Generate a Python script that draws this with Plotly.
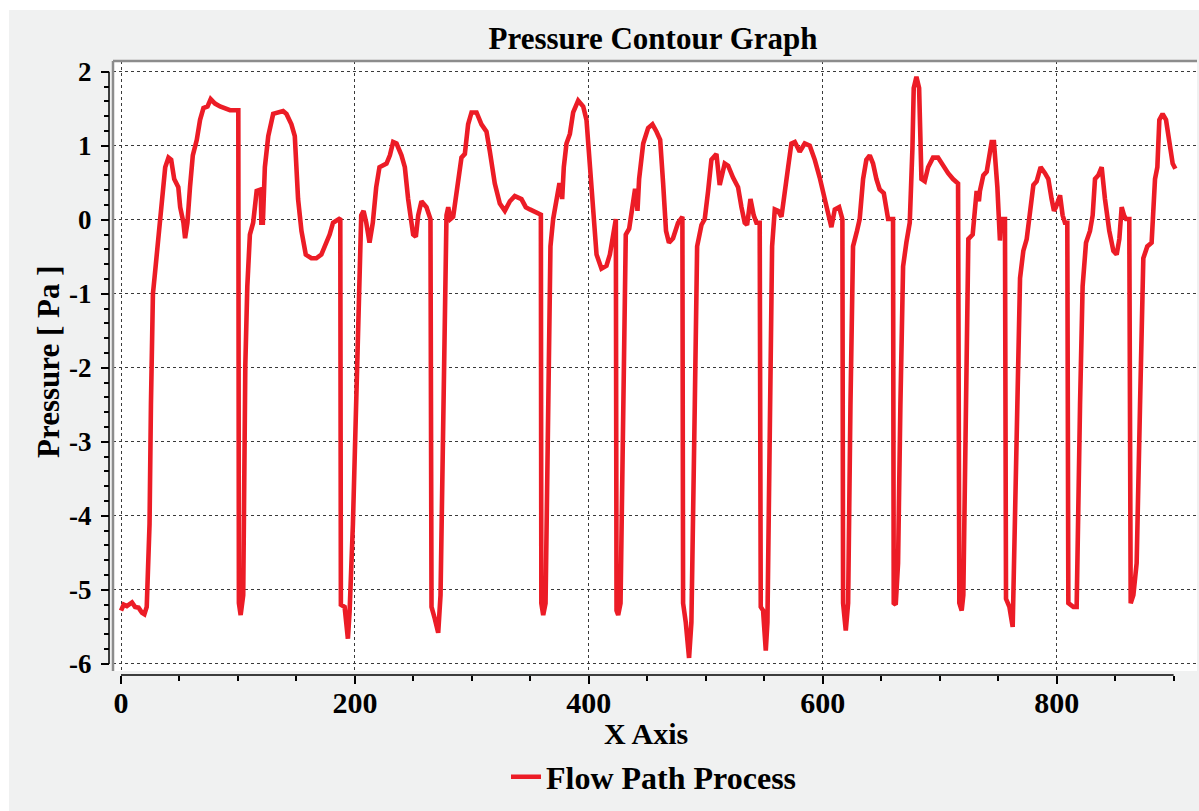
import plotly.graph_objects as go

# Sampled positions along the flow path and the pressure read at each point
x_pos = [
    0, 2.3, 5, 9.4, 12, 15, 18, 20, 22, 24.4, 25.6, 27.3, 29.3, 32, 35, 37.8, 40.6, 42.9,
    45.5, 49, 50.6, 53.4, 54.8, 56.8, 59, 61.4, 64.8, 67.6, 70.5, 74, 76.7, 80.4, 84.7, 89,
    93.2, 100.3, 100.8, 102.3, 104.5, 106.3, 108, 110.2, 113, 116, 118.2, 119.5, 120,
    121.3, 123, 125.9, 130.1, 134.4, 138.6, 141.5, 145.7, 148.6, 151.4, 154.3, 158, 162.8,
    167, 171.3, 174.2, 178.4, 181.3, 185.5, 187.5, 188, 191.2, 194, 195.5, 198.3, 201,
    203.4, 205.4, 207.4, 209.7, 212.5, 215.3, 218.2, 221, 227, 229.9, 232.7, 235.6, 239.8,
    242.7, 245.5, 249.8, 252.1, 254.1, 256.9, 261.2, 264.6, 265.5, 268.3, 271.2, 273.2,
    275.5, 276.9, 278.3, 279.8, 281.8, 284, 287.4, 291.1, 294, 296.8, 299.7, 304, 308.2,
    312.5, 315.4, 319.6, 323.9, 328.2, 332.5, 336.7, 342.4, 346.1, 349.6, 353.8, 359,
    359.4, 361, 363, 365.2, 367.2, 369.5, 372.4, 374.6, 376, 377.2, 378.6, 380.9, 383.8,
    386.6, 390.9, 395.2, 398, 400.9, 403.7, 406.6, 410.8, 415.1, 418, 420.8, 423.1, 423.7,
    425.1, 427.1, 429.4, 431.6, 434.5, 436.5, 439.3, 440.5, 441.6, 443, 446.5, 450.7,
    454.4, 457.9, 461, 463.5, 466, 468.5, 472, 476.3, 480, 480.6, 482.9, 485.7, 487.7,
    490.6, 492.6, 496.3, 499.1, 502, 504.8, 509.1, 511.9, 516.2, 519.1, 523.3, 527.6,
    530.5, 533.3, 535.3, 538.2, 541, 543.3, 546.1, 547, 549, 551.3, 552.7, 554.7, 556.7,
    559, 561.8, 564.7, 567.5, 570.4, 573.2, 576.1, 580.3, 584.6, 588.9, 593.2, 597.4,
    601.7, 604.6, 607.4, 610.3, 614, 616.8, 617.4, 619.7, 621.7, 623.7, 625.9, 629.3,
    631.6, 634.5, 637.3, 640.2, 643, 645.9, 648.7, 652.2, 655.9, 660.1, 660.7, 662.4,
    664.4, 666.4, 668.7, 671.5, 674.4, 676.7, 677.8, 680.1, 682.4, 684.4, 687.2, 690.1,
    694.3, 698.6, 702.9, 707.2, 711.4, 715.7, 716.8, 718.8, 720.2, 722.5, 724.5, 728.2,
    731.6, 733.5, 734.4, 737.3, 740.2, 744.4, 746.4, 749.3, 751.5, 752.5, 755.8, 756.7,
    759.6, 762.4, 764.4, 766.4, 768.7, 771.5, 774.4, 777.2, 780.1, 782.9, 786.3, 790,
    792.9, 795.7, 797.7, 799.4, 802.9, 805.1, 807.1, 809.1, 810, 814.3, 817.1, 820, 822.2,
    825.1, 828.5, 830.8, 832.8, 835.6, 838.5, 841.3, 845, 848.5, 851.3, 853.6, 855.6,
    857.6, 859.3, 862.1, 863.3, 865.6, 868.4, 871.3, 874.1, 877.5, 881.2, 884.1, 886.1,
    887.8, 890.6, 893.5, 896.3, 899.2, 901.5,
]

pressure = [
    -5.28, -5.20, -5.22, -5.17, -5.23, -5.24, -5.31, -5.33, -5.23, -4.11, -2.50, -1.00,
    -0.68, -0.26, 0.17, 0.71, 0.84, 0.81, 0.55, 0.44, 0.17, -0.04, -0.25, -0.04, 0.44,
    0.87, 1.08, 1.35, 1.51, 1.53, 1.63, 1.57, 1.53, 1.51, 1.48, 1.48, -5.18, -5.34, -5.07,
    -1.97, -0.90, -0.20, -0.04, 0.39, 0.41, 0.41, -0.04, -0.04, 0.71, 1.13, 1.43, 1.45,
    1.47, 1.43, 1.29, 1.13, 0.28, -0.15, -0.47, -0.52, -0.52, -0.47, -0.36, -0.20, -0.04,
    0.01, 0.02, -5.20, -5.23, -5.66, -5.28, -4.11, -2.50, -0.90, 0.06, 0.12, -0.04, -0.31,
    -0.04, 0.44, 0.71, 0.76, 0.87, 1.05, 1.03, 0.87, 0.71, 0.28, -0.20, -0.23, 0.06, 0.25,
    0.17, 0.01, -5.23, -5.39, -5.58, -5.07, -2.50, -0.90, 0.06, 0.17, 0.01, 0.04, 0.44,
    0.84, 0.89, 1.29, 1.45, 1.45, 1.29, 1.19, 0.92, 0.49, 0.22, 0.12, 0.25, 0.32, 0.28,
    0.17, 0.14, 0.11, 0.07, -5.18, -5.34, -5.18, -1.97, -0.36, 0.01, 0.28, 0.47, 0.47,
    0.28, 0.71, 1.03, 1.16, 1.45, 1.61, 1.53, 1.35, 0.71, -0.04, -0.47, -0.66, -0.62,
    -0.47, -0.15, 0.01, -5.28, -5.34, -5.18, -1.97, -0.20, -0.12, 0.06, 0.39, 0.39, 0.12,
    0.55, 1.03, 1.24, 1.29, 1.19, 1.08, 0.50, -0.15, -0.31, -0.25, -0.04, 0.04, -5.18,
    -5.44, -5.92, -5.44, -2.50, -0.36, -0.07, 0.01, 0.39, 0.81, 0.89, 0.47, 0.76, 0.73,
    0.57, 0.44, 0.17, -0.04, -0.07, 0.28, 0.06, -0.04, -0.04, -5.23, -5.28, -5.82, -5.44,
    -2.50, -0.36, 0.14, 0.12, 0.04, 0.33, 0.71, 1.03, 1.05, 0.92, 1.03, 1.00, 0.81, 0.57,
    0.28, 0.06, -0.10, 0.14, 0.17, 0.01, -5.18, -5.55, -5.18, -2.50, -0.36, -0.15, 0.01,
    0.55, 0.81, 0.87, 0.76, 0.55, 0.41, 0.36, 0.01, 0.01, -5.18, -5.20, -4.64, -2.50,
    -0.63, -0.31, -0.04, 0.97, 1.78, 1.93, 1.78, 0.55, 0.52, 0.71, 0.84, 0.84, 0.73, 0.63,
    0.55, 0.49, -5.18, -5.28, -5.07, -1.97, -0.26, -0.20, 0.39, 0.25, 0.39, 0.60, 0.65,
    1.05, 1.05, 0.44, -0.28, 0.01, 0.01, -5.12, -5.23, -5.50, -3.57, -2.50, -0.79, -0.42,
    -0.26, 0.06, 0.47, 0.52, 0.71, 0.63, 0.55, 0.28, 0.12, 0.17, 0.33, 0.06, -0.04, -0.04,
    -5.18, -5.23, -5.23, -2.50, -0.90, -0.31, -0.15, 0.06, 0.55, 0.60, 0.71, 0.28, -0.15,
    -0.42, -0.47, -0.26, 0.17, 0.06, 0.01, 0.01, -5.18, -5.07, -4.64, -2.50, -0.52, -0.36,
    -0.31, 0.55, 0.71, 1.35, 1.43, 1.35, 1.03, 0.76, 0.69,
]

x_ticks = [0, 200, 400, 600, 800]
y_ticks = [-6, -5, -4, -3, -2, -1, 0, 1, 2]

SERIF = "Liberation Serif"
RED = "#ec1c26"
PANEL = "#f0f1f1"

fig = go.Figure()
fig.add_trace(go.Scatter(
    x=x_pos, y=pressure, mode="lines", name="Flow Path Process",
    line=dict(color=RED, width=4.6),
))

# layout geometry (pixels): figure 1199 x 811, margins chosen so the
# free-standing axis lines sit a few pixels outside the framed plot area
W, H = 1199, 811
ML, MR, MT, MB = 109, 2, 61, 136
pw, ph = W - ML - MR, H - MT - MB


def px(xp):
    return (xp - ML) / pw


def py(yp):
    return (H - MB - yp) / ph


x_dom0 = px(113)
y_dom0 = py(671)

axis_font = dict(family=SERIF, color="black", weight="bold")

fig.update_layout(
    width=W, height=H,
    margin=dict(l=ML, r=MR, t=MT, b=MB, pad=0),
    paper_bgcolor=PANEL,
    plot_bgcolor="white",
    title=dict(
        text="Pressure Contour Graph", x=0.5, xref="paper", xanchor="center",
        y=1 - 38 / H, yref="container", yanchor="middle",
        font=dict(family=SERIF, size=31, color="black", weight="bold"),
    ),
    xaxis=dict(
        domain=[x_dom0, 1], range=[-6.84, 920], anchor="free", position=0,
        tickvals=x_ticks, ticktext=[str(v) for v in x_ticks],
        ticks="outside", ticklen=8, tickwidth=1.5, tickcolor="black",
        ticklabelstandoff=-7,
        minor=dict(dtick=50, tick0=0, ticks="outside", ticklen=5,
                   tickwidth=1.5, tickcolor="black", showgrid=False),
        showline=False, zeroline=False,
        showgrid=True, gridcolor="#3a3a3a", griddash="dot", gridwidth=1,
        tickfont=dict(size=30, **axis_font),
    ),
    yaxis=dict(
        domain=[y_dom0, 1], range=[-6.096, 2.145], anchor="free", position=0,
        tickvals=y_ticks, ticktext=[str(v) for v in y_ticks],
        ticks="outside", ticklen=8, tickwidth=1.5, tickcolor="black",
        ticklabelstandoff=4,
        minor=dict(dtick=0.2, tick0=0, ticks="outside", ticklen=5,
                   tickwidth=1.5, tickcolor="black", showgrid=False),
        showline=False, zeroline=False,
        showgrid=True, gridcolor="#3a3a3a", griddash="dot", gridwidth=1,
        tickfont=dict(size=27, **axis_font),
    ),
    showlegend=True,
    legend=dict(
        orientation="h", x=px(654), xanchor="center", y=py(777), yanchor="middle",
        bgcolor="rgba(0,0,0,0)", borderwidth=0,
        font=dict(family=SERIF, size=32, color="black", weight="bold"),
    ),
    annotations=[
        dict(text="X Axis", x=px(646), y=py(733), xref="paper", yref="paper",
             xanchor="center", yanchor="middle", showarrow=False,
             font=dict(family=SERIF, size=30, color="black", weight="bold")),
        dict(text="Pressure [ Pa ]", x=px(48), y=py(362), xref="paper", yref="paper",
             xanchor="center", yanchor="middle", showarrow=False, textangle=-90,
             font=dict(family=SERIF, size=31, color="black", weight="bold")),
    ],
    shapes=[
        # white border strips along the top and left edges of the page
        dict(type="rect", xref="paper", yref="paper", x0=px(0), x1=px(W),
             y0=py(0), y1=py(10), fillcolor="white", line=dict(width=0)),
        dict(type="rect", xref="paper", yref="paper", x0=px(0), x1=px(9),
             y0=py(0), y1=py(H), fillcolor="white", line=dict(width=0)),
        # grey frame on the left and top of the plotting area
        dict(type="line", xref="paper", yref="paper", x0=x_dom0, x1=x_dom0,
             y0=y_dom0, y1=1, line=dict(color="#8c8c8c", width=2.5)),
        dict(type="line", xref="paper", yref="paper", x0=x_dom0, x1=1,
             y0=1, y1=1, line=dict(color="#8c8c8c", width=2.5)),
        # axis spines covering only the labelled span
        dict(type="line", xref="paper", yref="y", x0=0, x1=0, y0=-6, y1=2,
             line=dict(color="black", width=1.5)),
        dict(type="line", xref="x", yref="paper", x0=0, x1=900, y0=0, y1=0,
             line=dict(color="black", width=1.5)),
    ],
)

fig.write_html("out.html")
